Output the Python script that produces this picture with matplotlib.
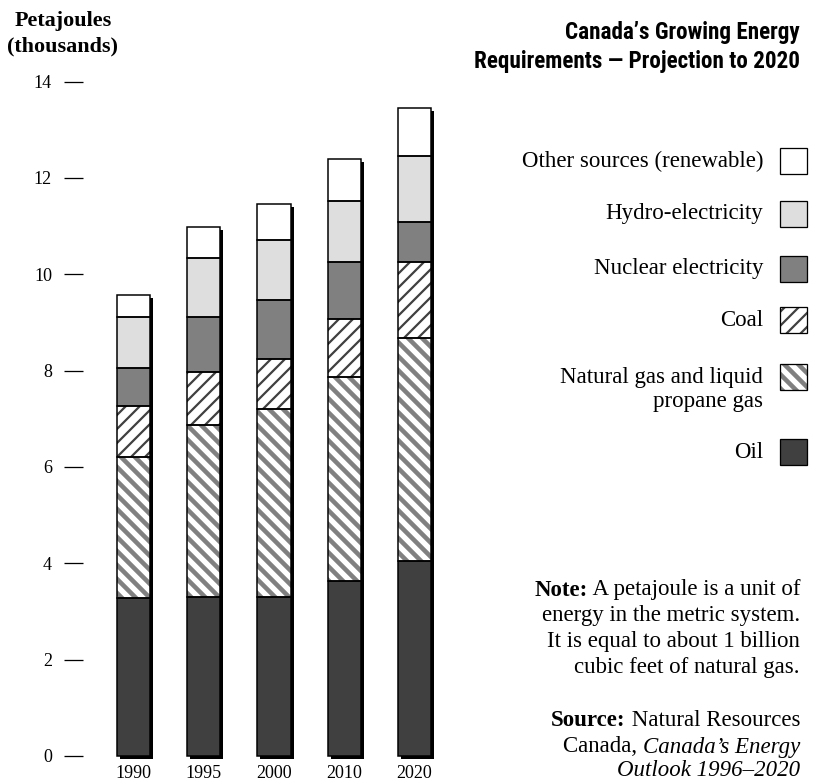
import matplotlib
matplotlib.use("Agg")
import matplotlib as mpl
import matplotlib.pyplot as plt
from matplotlib.patches import Rectangle
from matplotlib.transforms import ScaledTranslation
import numpy as np

# ---- data (thousands of petajoules) ----
years = ["1990", "1995", "2000", "2010", "2020"]
oil = [3.28, 3.29, 3.29, 3.64, 4.04]
natural_gas = [2.92, 3.57, 3.92, 4.22, 4.63]
coal = [1.07, 1.12, 1.02, 1.21, 1.59]
nuclear = [0.79, 1.14, 1.24, 1.19, 0.83]
hydro = [1.06, 1.21, 1.25, 1.27, 1.37]
other = [0.45, 0.64, 0.73, 0.87, 0.98]
y_ticks = [0, 2, 4, 6, 8, 10, 12, 14]

series_names = ["Oil", "Natural gas and liquid\npropane gas", "Coal",
                "Nuclear electricity", "Hydro-electricity",
                "Other sources (renewable)"]
series_values = [oil, natural_gas, coal, nuclear, hydro, other]

# fill styles: (face, hatch, hatch colour, hatch line width)
styles = [
    ("#404040", None, None, 0),
    ("white", "\\\\", "#808080", 3.9),
    ("white", "//", "#404040", 1.9),
    ("#808080", None, None, 0),
    ("#dedede", None, None, 0),
    ("white", None, None, 0),
]

DPI = 84
W, H = 817, 784
SERIF = "Liberation Serif"
COND = ["Roboto Condensed", "Liberation Sans"]

fig = plt.figure(figsize=(W / DPI, H / DPI), dpi=DPI)
fig.patch.set_facecolor("white")


def fx(px):
    return px / W


def fy(py):
    return 1 - py / H


def hatch_width(artist, lw):
    """Give one artist its own hatch line width."""
    if hasattr(artist, "set_hatch_linewidth"):
        try:
            artist.set_hatch_linewidth(lw)
        except Exception:
            pass
    orig = artist.draw

    def draw(renderer, _orig=orig):
        with mpl.rc_context({"hatch.linewidth": lw}):
            _orig(renderer)

    artist.draw = draw


# ---- plotting area ----
ax = fig.add_axes([fx(83), fy(756), fx(455) - fx(83), (756 - 81.5) / H])
x = np.arange(len(years))
bar_w = 0.47
totals = np.sum(series_values, axis=0)

shadow = ScaledTranslation(3 / DPI, -3 / DPI, fig.dpi_scale_trans)
ax.bar(x, totals, width=bar_w, color="black", linewidth=0,
       transform=ax.transData + shadow, clip_on=False, zorder=1)

bottom = np.zeros(len(years))
for vals, (face, hatch, hcol, hlw) in zip(series_values, styles):
    if hatch:
        bars = ax.bar(x, vals, width=bar_w, bottom=bottom, color=face,
                      edgecolor=hcol, linewidth=0, hatch=hatch,
                      clip_on=False, zorder=2)
        for b in bars:
            hatch_width(b, hlw)
    else:
        ax.bar(x, vals, width=bar_w, bottom=bottom, color=face,
               linewidth=0, clip_on=False, zorder=2)
    ax.bar(x, vals, width=bar_w, bottom=bottom, fill=False,
           edgecolor="black", linewidth=1.3, clip_on=False, zorder=3)
    bottom = bottom + np.array(vals)

ax.set_xlim((83 - 133.5) / 70.25, (455 - 133.5) / 70.25)
ax.set_ylim(0, 14)
for s in ax.spines.values():
    s.set_visible(False)
ax.set_yticks(y_ticks)
ax.set_yticklabels([str(t) for t in y_ticks], fontfamily=SERIF)
ax.set_xticks(x)
ax.set_xticklabels(years, fontfamily=SERIF)
ax.tick_params(axis="y", direction="out", length=16.3, width=1.1,
               pad=10.3, labelsize=15.4, colors="black")
ax.tick_params(axis="x", length=0, pad=7.5, labelsize=15.4)
ax.patch.set_visible(False)

# ---- axis title ----
fig.text(fx(63), fy(21), "Petajoules", ha="center", va="center",
         fontfamily=SERIF, fontweight="bold", fontsize=19)
fig.text(fx(63), fy(46), "(thousands)", ha="center", va="center",
         fontfamily=SERIF, fontweight="bold", fontsize=19)

# ---- chart title ----
fig.text(fx(800), fy(33), "Canada\u2019s Growing Energy", ha="right",
         va="center", family=COND, fontweight="bold", fontsize=19.8)
fig.text(fx(800), fy(61.5), "Requirements \u2014 Projection to 2020",
         ha="right", va="center", family=COND, fontweight="bold",
         fontsize=19.8)

# ---- legend (top entry first) ----
legend_rows = [161, 214, 269, 320, 377, 452]
for name, (face, hatch, hcol, hlw), yc in zip(series_names[::-1],
                                              styles[::-1], legend_rows):
    box_h = 26
    r = Rectangle((fx(780), fy(yc + box_h / 2)), fx(807) - fx(780),
                  box_h / H, transform=fig.transFigure, facecolor=face,
                  edgecolor=hcol if hatch else "black",
                  linewidth=0 if hatch else 1.1, hatch=hatch)
    fig.add_artist(r)
    if hatch:
        hatch_width(r, hlw)
        fig.add_artist(Rectangle((fx(780), fy(yc + box_h / 2)),
                                 fx(807) - fx(780), box_h / H,
                                 transform=fig.transFigure, fill=False,
                                 edgecolor="black", linewidth=1.1))
    lines = name.split("\n")
    for k, line in enumerate(lines):
        fig.text(fx(763), fy(yc + 25 * k), line, ha="right", va="center",
                 fontfamily=SERIF, fontsize=19.6)


# ---- note and source ----
def rich_line(parts, y, size=19.6):
    """Right-aligned line built from (text, weight, style) pieces."""
    anchor = None
    for text, weight, style in reversed(parts):
        kw = dict(fontfamily=SERIF, fontsize=size, fontweight=weight,
                  fontstyle=style)
        if anchor is None:
            anchor = fig.text(fx(800), fy(y), text, ha="right",
                              va="center", **kw)
        else:
            anchor = ax.annotate(text, xy=(0, 0), xycoords=anchor,
                                 ha="right", va="bottom",
                                 annotation_clip=False, **kw)


rich_line([("Note:", "bold", "normal"),
           (" A petajoule is a unit of", "normal", "normal")], 590)
rich_line([("energy in the metric system.", "normal", "normal")], 616)
rich_line([("It is equal to about 1 billion", "normal", "normal")], 642)
rich_line([("cubic feet of natural gas.", "normal", "normal")], 668)
rich_line([("Source:", "bold", "normal"),
           (" Natural Resources", "normal", "normal")], 721)
rich_line([("Canada, ", "normal", "normal"),
           ("Canada\u2019s Energy", "normal", "italic")], 747)
rich_line([("Outlook 1996\u20132020", "normal", "italic")], 771)

fig.savefig("out.png", dpi=DPI, facecolor="white")
